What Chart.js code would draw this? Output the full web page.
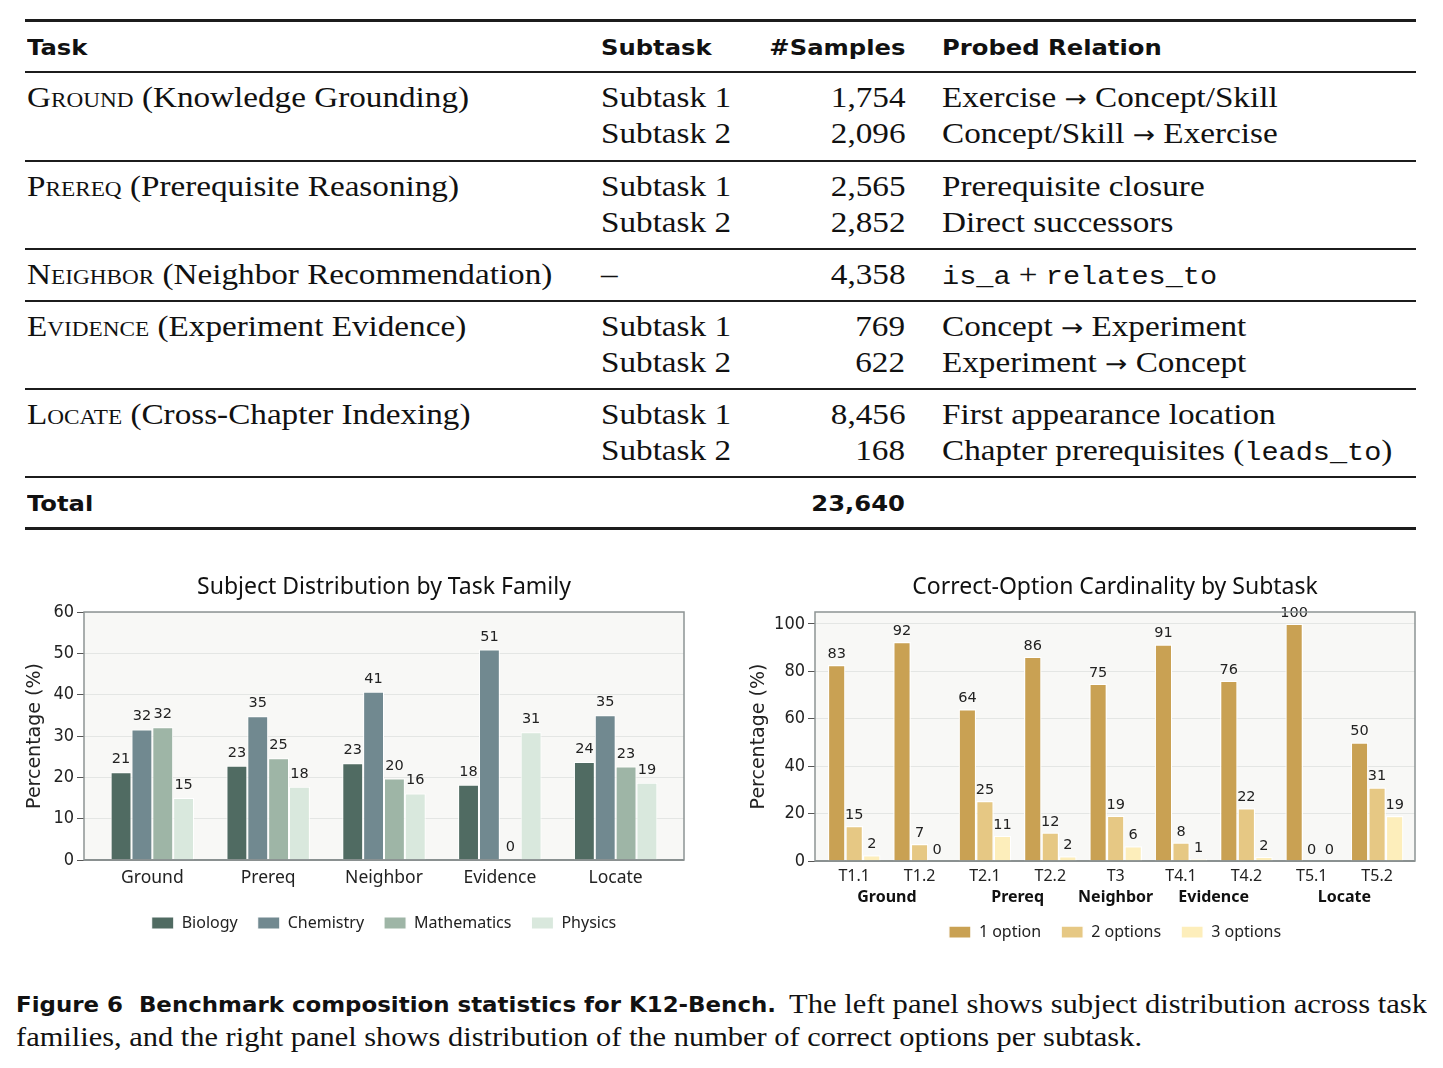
<!DOCTYPE html>
<html>
<head>
<meta charset="utf-8">
<script src="https://cdn.jsdelivr.net/npm/chart.js@4.4.1/dist/chart.umd.min.js"></script>
<style>
  html, body { margin: 0; padding: 0; background: #fff; }
  body { width: 1443px; height: 1068px; position: relative; overflow: hidden; color: #111; }
  .rule { position: absolute; left: 25px; width: 1391px; background: #1c1c1c; }
  .t { position: absolute; white-space: nowrap; line-height: 1.15; transform-origin: left center; }
  .serif { font-family: "Liberation Serif", serif; font-size: 30px; }
  .head { font-family: "DejaVu Sans", sans-serif; font-weight: bold; font-size: 22px; }
  .capb { font-family: "DejaVu Sans", sans-serif; font-weight: bold; font-size: 22px; }
  .caps { font-family: "Liberation Serif", serif; font-size: 28px; }
  .sc { font-variant: small-caps; }
  .arr { font-family: "DejaVu Sans", sans-serif; font-size: 0.8em; }
  tt { font-family: "Liberation Mono", monospace; font-size: 0.86em; }
  canvas { position: absolute; top: 560px; }
  #subjectChart { left: 0; }
  #optionChart { left: 720px; }
</style>
</head>
<body>
<canvas id="subjectChart" width="720" height="400"></canvas>
<canvas id="optionChart" width="723" height="400"></canvas>
<script>
// ---- table ----
const taskNames = ['Ground', 'Prereq', 'Neighbor', 'Evidence', 'Locate'];
const taskDescriptions = ['(Knowledge Grounding)', '(Prerequisite Reasoning)', '(Neighbor Recommendation)', '(Experiment Evidence)', '(Cross-Chapter Indexing)'];
const subtaskNames = [['Subtask 1', 'Subtask 2'], ['Subtask 1', 'Subtask 2'], ['–'], ['Subtask 1', 'Subtask 2'], ['Subtask 1', 'Subtask 2']];
const sampleCounts = [['1,754', '2,096'], ['2,565', '2,852'], ['4,358'], ['769', '622'], ['8,456', '168']];
const probedRelations = [
    ['Exercise → Concept/Skill', 'Concept/Skill → Exercise'],
    ['Prerequisite closure', 'Direct successors'],
    ['<tt>is_a</tt> + <tt>relates_to</tt>'],
    ['Concept → Experiment', 'Experiment → Concept'],
    ['First appearance location', 'Chapter prerequisites (<tt>leads_to</tt>)']
];
const totalSamples = '23,640';

// ---- left chart ----
const families = ['Ground', 'Prereq', 'Neighbor', 'Evidence', 'Locate'];
const biology = [21.2, 22.8, 23.4, 18.2, 23.7];
const chemistry = [31.6, 34.8, 40.7, 50.9, 35.0];
const mathematics = [32.1, 24.6, 19.7, 0, 22.6];
const physics = [15.0, 17.7, 16.1, 30.9, 18.7];
const subjectTicks = [0, 10, 20, 30, 40, 50, 60];

// ---- right chart ----
const subtasks = ['T1.1', 'T1.2', 'T2.1', 'T2.2', 'T3', 'T4.1', 'T4.2', 'T5.1', 'T5.2'];
const subtaskGroups = [[0, 1], [2, 3], [4], [5, 6], [7, 8]];
const oneOption = [82.7, 92.4, 64.0, 86.1, 74.7, 91.3, 76.0, 100, 50.0];
const twoOptions = [14.8, 7.2, 25.3, 12.0, 19.1, 7.8, 22.2, 0, 31.0];
const threeOptions = [2.4, 0, 10.6, 2.0, 6.2, 0.8, 1.8, 0, 19.0];
const cardinalityTicks = [0, 20, 40, 60, 80, 100];

function addRule(y, h) {
    const r = document.createElement('div');
    r.className = 'rule';
    r.style.top = y + 'px';
    r.style.height = h + 'px';
    document.body.appendChild(r);
}

function addText(cls, html, x, y, anchorRight) {
    const el = document.createElement('div');
    el.className = 't ' + cls;
    el.innerHTML = html.replace(/→/g, '<span class="arr">→</span>');
    document.body.appendChild(el);
    el.style.top = (y - el.offsetHeight / 2) + 'px';
    if (anchorRight) {
        el.style.right = (1443 - x) + 'px';
        el.style.transformOrigin = 'right center';
    } else {
        el.style.left = x + 'px';
    }
    return el;
}

function fitWidth(el, target) {
    const w = el.getBoundingClientRect().width;
    el.style.transform = 'scaleX(' + (target / w) + ')';
}

addRule(19, 3);
addRule(527, 3);
const ruleYs = [72, 161, 249, 301, 389, 477];
ruleYs.forEach(y => addRule(y - 1, 2));

const colX = { task: 27, sub: 601, samples: 905, rel: 942 };
const heads = [
    addText('head', 'Task', colX.task, 47),
    addText('head', 'Subtask', colX.sub, 47),
    addText('head', '#Samples', colX.samples, 47, true),
    addText('head', 'Probed Relation', colX.rel, 47)
];
const serifEls = [];
taskNames.forEach((name, g) => {
    const y0 = ruleYs[g] + 25.5;
    serifEls.push(addText('serif', '<span class="sc">' + name + '</span> ' + taskDescriptions[g], colX.task, y0));
    subtaskNames[g].forEach((s, k) => {
        const y = y0 + 36 * k;
        serifEls.push(addText('serif', s, colX.sub, y));
        serifEls.push(addText('serif', sampleCounts[g][k], colX.samples, y, true));
        serifEls.push(addText('serif', probedRelations[g][k], colX.rel, y));
    });
});
heads.push(addText('head', 'Total', colX.task, 503));
heads.push(addText('head', totalSamples, colX.samples, 503, true));

// horizontal scale to match the reference type widths
const kSerif = 130 / serifEls[1].getBoundingClientRect().width;
serifEls.forEach(el => { el.style.transform = 'scaleX(' + kSerif + ')'; });
const kHead = 136 / heads[2].getBoundingClientRect().width;
heads.forEach(el => { el.style.transform = 'scaleX(' + kHead + ')'; });

// caption
fitWidth(addText('capb', 'Figure 6&nbsp; Benchmark composition statistics for K12-Bench.', 16, 1004), 760);
fitWidth(addText('caps', 'The left panel shows subject distribution across task', 789, 1004), 638);
fitWidth(addText('caps', 'families, and the right panel shows distribution of the number of correct options per subtask.', 16, 1037), 1126);

// ---- charts ----
Chart.defaults.font.family = '"DejaVu Sans", sans-serif';
Chart.defaults.color = '#222';
Chart.defaults.animation = false;
const handFont = '"Noto Sans", sans-serif';
const tickFont = '"DejaVu Sans Condensed", "DejaVu Sans", sans-serif';

const plotFrame = {
    id: 'plotFrame',
    beforeDraw(chart) {
        const { ctx, chartArea: a } = chart;
        ctx.save();
        ctx.fillStyle = '#f8f8f6';
        ctx.fillRect(a.left, a.top, a.width, a.height);
        ctx.restore();
    },
    beforeDatasetsDraw(chart) {
        const { ctx, chartArea: a, scales: { y } } = chart;
        const y0 = y.getPixelForValue(0);
        ctx.save();
        ctx.strokeStyle = '#5f6464';
        ctx.lineWidth = 1.5;
        ctx.beginPath();
        ctx.moveTo(a.left, y0);
        ctx.lineTo(a.right, y0);
        ctx.stroke();
        ctx.restore();
    },
    afterDraw(chart) {
        const { ctx, chartArea: a } = chart;
        ctx.save();
        ctx.strokeStyle = '#8d9494';
        ctx.lineWidth = 1.5;
        ctx.strokeRect(a.left, a.top, a.width, a.height);
        ctx.restore();
    }
};

const valueLabels = {
    id: 'valueLabels',
    afterDatasetsDraw(chart, args, opts) {
        const { ctx } = chart;
        ctx.save();
        ctx.font = '14.5px "DejaVu Sans"';
        ctx.fillStyle = '#222';
        ctx.textAlign = 'center';
        ctx.textBaseline = 'alphabetic';
        chart.data.datasets.forEach((ds, i) => {
            chart.getDatasetMeta(i).data.forEach((bar, j) => {
                ctx.fillText(Math.round(ds.data[j].y), bar.x, bar.y - opts.offset);
            });
        });
        ctx.restore();
    }
};

// keep title and legend centred over the plot frame
const centerOnPlot = {
    id: 'centerOnPlot',
    afterLayout(chart) {
        const a = chart.chartArea;
        [chart.titleBlock, chart.legend].forEach(b => {
            if (b) { b.left = a.left; b.right = a.right; }
        });
    }
};

const groupLabels = {
    id: 'groupLabels',
    afterDraw(chart, args, opts) {
        const { ctx, scales: { x }, chartArea } = chart;
        ctx.save();
        ctx.font = 'bold 16px ' + handFont;
        ctx.fillStyle = '#111';
        ctx.textAlign = 'center';
        ctx.textBaseline = 'middle';
        subtaskGroups.forEach((g, i) => {
            const cx = g.reduce((s, j) => s + x.getPixelForValue(j), 0) / g.length;
            ctx.fillText(taskNames[i], cx, chartArea.bottom + opts.offset);
        });
        ctx.restore();
    }
};

function points(values) {
    return values.map((v, i) => ({ x: i, y: v }));
}

function barSet(label, values, color, border) {
    return {
        label: label,
        data: points(values),
        backgroundColor: color,
        borderColor: '#ffffff',
        borderWidth: border,
        borderSkipped: 'start'
    };
}

function makeOptions(o) {
    return {
        responsive: false,
        events: [],
        layout: { padding: { left: 0, right: o.padRight, top: 0, bottom: o.padBottom } },
        datasets: { bar: { categoryPercentage: o.catPct, barPercentage: 1 } },
        plugins: {
            title: {
                display: true,
                text: o.title,
                color: '#111',
                font: { family: handFont, size: 23, weight: 'normal' },
                padding: { top: 13.2, bottom: 11.2 }
            },
            legend: {
                position: 'bottom',
                labels: {
                    boxWidth: 22, boxHeight: 12, padding: 20, color: '#222',
                    font: { family: handFont, size: 16 }
                }
            },
            tooltip: { enabled: false },
            valueLabels: { offset: o.labelOffset },
            groupLabels: { offset: 36 }
        },
        scales: {
            x: {
                type: 'linear',
                offset: false,
                min: o.xMin,
                max: o.xMax,
                afterBuildTicks: s => { s.ticks = o.cats.map((_, i) => ({ value: i })); },
                ticks: {
                    callback: v => o.cats[v],
                    padding: o.xPad,
                    autoSkip: false,
                    maxRotation: 0,
                    color: '#222',
                    font: { family: handFont, size: o.xFont }
                },
                grid: { display: false, drawTicks: false, offset: false },
                border: { display: false },
                afterFit: s => { s.height = o.xHeight; }
            },
            y: {
                min: 0,
                max: o.yMax,
                afterBuildTicks: s => { s.ticks = o.yTicks.map(v => ({ value: v })); },
                ticks: { padding: 3, color: '#222', font: { family: tickFont, size: 18 } },
                grid: { color: '#e4e6e4', lineWidth: 1, tickLength: 7, tickColor: '#555' },
                border: { display: false },
                title: {
                    display: true,
                    text: 'Percentage (%)',
                    color: '#222',
                    font: { size: 19 },
                    padding: { top: o.yTitlePad, bottom: 0 }
                },
                afterFit: s => { s.width = o.yWidth; }
            }
        }
    };
}

new Chart(document.getElementById('subjectChart'), {
    type: 'bar',
    data: {
        datasets: [
            barSet('Biology', biology, '#506b62', 1),
            barSet('Chemistry', chemistry, '#718990', 1),
            barSet('Mathematics', mathematics, '#9eb5a6', 1),
            barSet('Physics', physics, '#d9e8dd', 1)
        ]
    },
    options: makeOptions({
        title: 'Subject Distribution by Task Family',
        cats: families, xMin: -0.59, xMax: 4.59, catPct: 0.72,
        yMax: 60, yTicks: subjectTicks, yWidth: 84, yTitlePad: 23.6,
        padRight: 36, padBottom: 19, xHeight: 35, xPad: 8, xFont: 17.5,
        labelOffset: 9
    }),
    plugins: [plotFrame, valueLabels, centerOnPlot]
});

new Chart(document.getElementById('optionChart'), {
    type: 'bar',
    data: {
        datasets: [
            barSet('1 option', oneOption, '#c9a153', 1.25),
            barSet('2 options', twoOptions, '#e6c884', 1.25),
            barSet('3 options', threeOptions, '#fdeebb', 1.25)
        ]
    },
    options: makeOptions({
        title: 'Correct-Option Cardinality by Subtask',
        cats: subtasks, xMin: -0.6, xMax: 8.58, catPct: 0.805,
        yMax: 105, yTicks: cardinalityTicks, yWidth: 95, yTitlePad: 27.6,
        padRight: 28, padBottom: 10, xHeight: 43, xPad: 6, xFont: 16,
        labelOffset: 7
    }),
    plugins: [plotFrame, valueLabels, centerOnPlot, groupLabels]
});
</script>
</body>
</html>
